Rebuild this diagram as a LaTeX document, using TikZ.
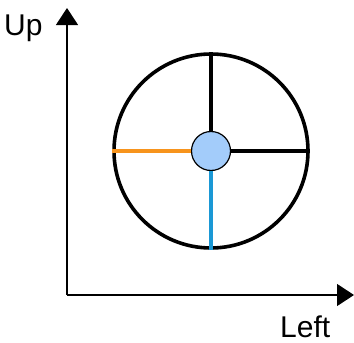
\documentclass[tikz,border=0pt]{standalone}
\usepackage{fontspec}
\setmainfont{Liberation Sans}
\usetikzlibrary{arrows.meta}
\definecolor{lorange}{HTML}{F7941D}
\definecolor{lblue}{HTML}{1A98D5}
\definecolor{lfill}{HTML}{A3CCFA}
\begin{document}
\begin{tikzpicture}[x=1pt,y=-1pt,
  axis/.style={line width=1.2pt,-{Triangle[length=17pt,width=22pt]}},
  spoke/.style={line width=3.6pt},
  lbl/.style={inner sep=0pt,font=\fontsize{30}{32}\selectfont}]
\useasboundingbox (0,0) rectangle (354,343);
\coordinate (o) at (67,295);
\coordinate (ytip) at (67,8);
\coordinate (xtip) at (354,295);
\draw[axis] (o) -- (ytip);
\draw[axis] (o) -- (xtip);
\node[lbl,anchor=base west] (up) at (4,35) {Up};
\node[lbl,anchor=base west] (left) at (280,337) {Left};
\node[circle,draw,line width=3.6pt,minimum size=194pt,inner sep=0pt] (big) at (211,151) {};
\node[circle,draw,line width=1.2pt,fill=lfill,minimum size=39pt,inner sep=0pt] (hub) at (211,151) {};
\draw[spoke] (hub.north) -- (big.north);
\draw[spoke] (hub.east) -- (big.east);
\draw[spoke,lorange] (hub.west) -- (big.west);
\draw[spoke,lblue] (hub.south) -- (big.south);
\end{tikzpicture}
\end{document}
